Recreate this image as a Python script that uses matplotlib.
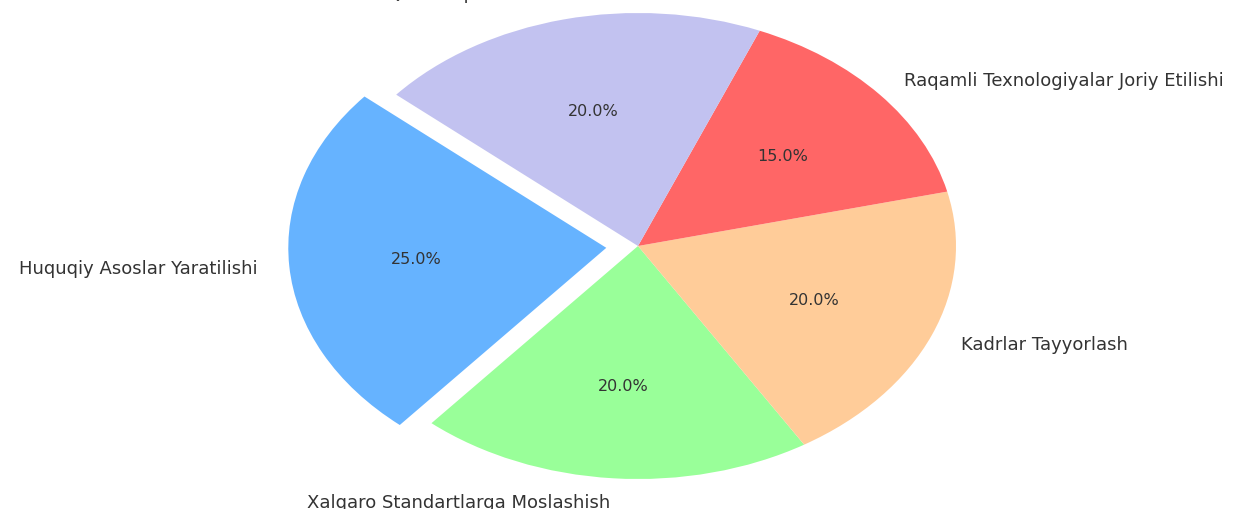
import matplotlib.pyplot as plt

plt.rcParams['font.family'] = ['DejaVu Sans']

# Ulushlar
labels = ["Huquqiy Asoslar Yaratilishi", "Xalqaro Standartlarga Moslashish",
          "Kadrlar Tayyorlash", "Raqamli Texnologiyalar Joriy Etilishi",
          "Davlat Qo'llab-quvvatlash"]
sizes = [25, 20, 20, 15, 20]
colors = ['#66b3ff', '#99ff99', '#ffcc99', '#ff6666', '#c2c2f0']
explode = [0.1, 0, 0, 0, 0]

fig = plt.figure(figsize=(12.39, 5.10), dpi=100)
ax = fig.add_axes([320 / 1239, 30 / 510, 636 / 1239, 466 / 510])

wedges, texts, autotexts = ax.pie(sizes, labels=labels, colors=colors, explode=explode,
                                  autopct='%1.1f%%', startangle=139.5,
                                  textprops={'fontsize': 13, 'color': '#333333'})
for t in autotexts:
    t.set_fontsize(11.5)
texts[4].set_y(texts[4].get_position()[1] + 0.015)

ax.set_aspect('auto')
ax.set_xlim(-1, 1)
ax.set_ylim(-1, 1)
ax.axis('off')

fig.savefig('out.png', dpi=100)
